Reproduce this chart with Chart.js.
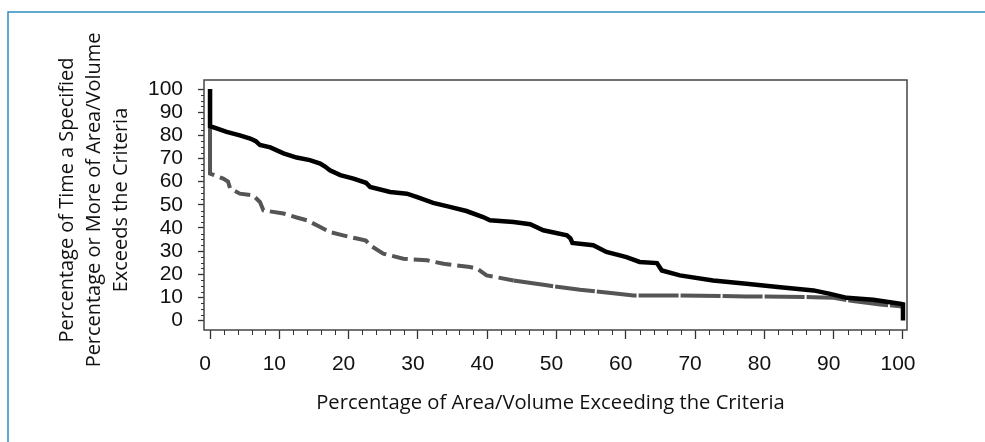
<!DOCTYPE html>
<html><head><meta charset="utf-8">
<script src="https://cdn.jsdelivr.net/npm/chart.js@4.4.1/dist/chart.umd.min.js"></script>
<style>html,body{margin:0;padding:0;background:#fff;overflow:hidden}</style>
</head><body>
<canvas id="c" width="985" height="442"></canvas>
<script>
// ---- data ----
const xTickValues = [0,10,20,30,40,50,60,70,80,90,100];
const yTickValues = [0,10,20,30,40,50,60,70,80,90,100];
const xTitle = "Percentage of Area/Volume Exceeding the Criteria";
const yTitleLines = ["Percentage of Time a Specified","Percentage or More of Area/Volume","Exceeds the Criteria"];

const blackX = [0,0,2.4,4.3,5.8,6.6,7.2,8.7,10.6,12.5,14.4,15.9,16.6,17.3,18.8,20.7,22.5,23.1,26,28.4,29.8,32.2,34.6,37,39.4,40.4,43.8,46.2,48.1,51.5,52.0,52.3,55.3,57.2,60.1,62,64.5,65.2,67.8,72.6,77.4,82.3,87.1,89.5,91.9,95.7,99.6,100,100];
const blackY = [100,84,81.5,80,78.6,77.5,75.8,74.8,72.2,70.4,69.3,67.8,66.5,64.9,62.8,61.3,59.5,57.7,55.5,54.8,53.4,50.8,49.1,47.3,44.7,43.3,42.6,41.6,39,36.8,35.5,33.5,32.5,29.6,27.4,25.3,24.8,21.6,19.5,17.3,15.9,14.4,13,11.5,9.8,9,7.2,7,0];

const grayX = [0,0,1.9,2.6,2.9,4.3,6.2,7.2,7.7,10.6,12.5,14,15.9,17.3,19.2,21.2,22.5,23.1,25,27.9,31.3,33.7,37.5,38.5,39.9,43.8,48.6,53.4,58.2,61.1,67.8,77.4,87.1,90,92.8,96.7,99.9];
const grayY = [100,63.5,61.3,60,57,54.8,54.1,51.2,47.6,46.2,44.5,43.3,40.4,38.2,36.8,35.4,34.5,32.5,28.9,26.7,26,24.5,23.1,22.5,19.5,17.3,15.2,13.3,11.8,10.8,10.8,10.4,10.1,9.8,8.4,6.9,6.1];

const toPts = (xs, ys) => xs.map((x, i) => ({x, y: ys[i]}));

const frameAndTitles = {
  id: 'frameAndTitles',
  beforeDraw(chart) {
    const ctx = chart.ctx;
    ctx.save();
    ctx.fillStyle = '#fff';
    ctx.fillRect(0, 0, chart.width, chart.height);
    ctx.strokeStyle = '#2f8dc0';
    ctx.lineWidth = 1.5;
    ctx.beginPath();
    ctx.moveTo(8, chart.height + 2);
    ctx.lineTo(8, 12);
    ctx.lineTo(chart.width + 2, 12);
    ctx.stroke();
    ctx.restore();
  },
  afterDraw(chart) {
    const ctx = chart.ctx;
    const a = chart.chartArea;
    const xs = chart.scales.x, ys = chart.scales.y;
    ctx.save();
    // plot box
    ctx.strokeStyle = '#444';
    ctx.lineWidth = 1.5;
    ctx.strokeRect(a.left, a.top, a.right - a.left, a.bottom - a.top);
    // minor ticks
    ctx.strokeStyle = '#333';
    ctx.lineWidth = 1;
    ctx.beginPath();
    for (let v = 0; v <= 100; v += 2) {
      if (v % 10 === 0) continue;
      const px = Math.round(xs.getPixelForValue(v)) + 0.5;
      ctx.moveTo(px, a.bottom); ctx.lineTo(px, a.bottom + 5);
    }
    for (let v = 0; v <= 100; v += 2.5) {
      if (v % 10 === 0) continue;
      const py = Math.round(ys.getPixelForValue(v)) + 0.5;
      ctx.moveTo(a.left - 3, py); ctx.lineTo(a.left, py);
    }
    ctx.stroke();

    // y title (3 rotated lines)
    ctx.fillStyle = '#111';
    ctx.textAlign = 'center';
    ctx.textBaseline = 'middle';
    let fs = 18;
    ctx.font = fs + 'px "Open Sans", "DejaVu Sans", sans-serif';
    const w2 = ctx.measureText(yTitleLines[1]).width;
    fs = fs * 335 / w2;
    ctx.font = fs.toFixed(2) + 'px "Open Sans", "DejaVu Sans", sans-serif';
    const lineXs = [67, 94, 121];
    yTitleLines.forEach((t, i) => {
      ctx.save();
      ctx.translate(lineXs[i], 200);
      ctx.rotate(-Math.PI / 2);
      ctx.fillText(t, 0, 0);
      ctx.restore();
    });
    // x title
    let fx = 18;
    ctx.font = fx + 'px "Open Sans", "DejaVu Sans", sans-serif';
    const wx = ctx.measureText(xTitle).width;
    fx = fx * 469 / wx;
    ctx.font = fx.toFixed(2) + 'px "Open Sans", "DejaVu Sans", sans-serif';
    ctx.fillText(xTitle, 550.5, 403);
    ctx.restore();
  }
};

new Chart(document.getElementById('c'), {
  type: 'scatter',
  data: {
    datasets: [
      {
        label: 'Series A',
        data: toPts(blackX, blackY),
        showLine: true,
        borderColor: '#000',
        borderWidth: 4.5,
        pointRadius: 0,
        tension: 0,
        fill: false
      },
      {
        label: 'Series B',
        data: toPts(grayX, grayY),
        showLine: true,
        borderColor: '#555',
        borderWidth: 4,
        pointRadius: 0,
        tension: 0,
        fill: false,
        segment: {
          borderDash: ctx => ctx.p0.parsed.x < 41 ? [16, 6] : [40, 2]
        }
      }
    ]
  },
  options: {
    responsive: false,
    animation: false,
    devicePixelRatio: 1,
    layout: { padding: { top: 80, right: 78, left: 0, bottom: 0 } },
    plugins: { legend: { display: false }, tooltip: { enabled: false } },
    scales: {
      x: {
        type: 'linear',
        min: -0.87, max: 100.58,
        afterBuildTicks: s => { s.ticks = xTickValues.map(v => ({value: v})); },
        afterFit: s => { s.height = 112; },
        border: { display: false },
        grid: { drawOnChartArea: false, drawTicks: true, tickLength: 9, color: '#333', tickWidth: 1.3 },
        ticks: {
          font: { family: '"Liberation Sans", Arial, sans-serif', size: 21 },
          color: '#111', padding: 13, maxRotation: 0, autoSkip: false, labelOffset: -5,
          callback: v => String(v)
        }
      },
      y: {
        type: 'linear',
        min: -4.1, max: 103.9,
        afterBuildTicks: s => { s.ticks = yTickValues.map(v => ({value: v})); },
        afterFit: s => { s.width = 204; },
        border: { display: false },
        grid: { drawOnChartArea: false, drawTicks: true, tickLength: 6, color: '#333', tickWidth: 1.3 },
        ticks: {
          font: { family: '"Liberation Sans", Arial, sans-serif', size: 21 },
          color: '#111', padding: 15, autoSkip: false,
          callback: v => String(v)
        }
      }
    }
  },
  plugins: [frameAndTitles]
});
</script>
</body></html>
